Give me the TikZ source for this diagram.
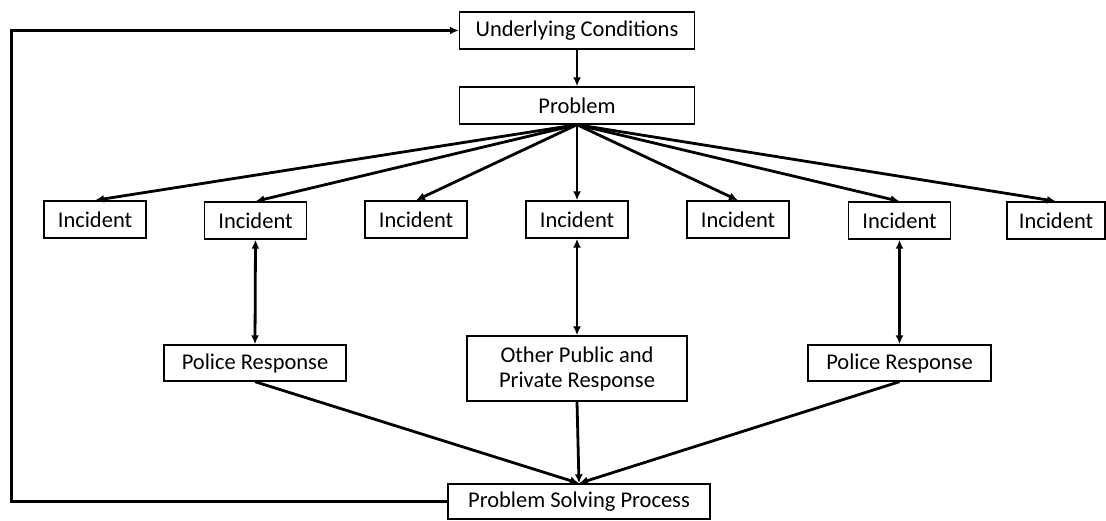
\documentclass[tikz,border=0pt]{standalone}
\usepackage{fontspec}
\setmainfont{Carlito}
\usetikzlibrary{arrows.meta,positioning}

\begin{document}
\begin{tikzpicture}[x=1pt,y=-1pt,
  box/.style={draw, line width=1.4pt, inner sep=0pt, minimum height=37pt, align=center, font=\fontsize{22.5}{25}\selectfont},
  link/.style={line width=2.8pt, -{Latex[length=9pt,width=8pt]}},
  twoway/.style={line width=2.8pt, {Latex[length=9pt,width=8pt]}-{Latex[length=9pt,width=8pt]}}]
\useasboundingbox (0,0) rectangle (1106,520);

\node[box, minimum width=235pt] (uc) at (577, 30.5) {Underlying Conditions};
\node[box, minimum width=235pt] (pr) at (577, 105.5) {Problem};

\foreach \i/\x/\y in {1/95/219.5, 2/255.5/220.5, 3/416/219.5, 4/577/219.5, 5/738/219.5, 6/899.5/220.5}
  \node[box, minimum width=102pt] (in\i) at (\x, \y) {Incident};
\node[box, minimum width=98pt] (in7) at (1056, 220.5) {Incident};

\node[box, minimum width=182pt, minimum height=36pt] (pl) at (255, 363) {Police Response};
\node[box, minimum width=220pt, minimum height=65pt] (op) at (577, 368.5) {Other Public and\\Private Response};
\node[box, minimum width=183pt, minimum height=36pt] (pr2) at (899.5, 363) {Police Response};
\node[box, minimum width=262pt, minimum height=35pt] (ps) at (579, 501.5) {Problem Solving Process};

\coordinate (corner) at (11, 501.5);

\draw[link] (uc) -- (pr);
\foreach \to in {in1,in2,in3,in4,in5,in6,in7}
  \draw[link] (pr.south) -- (\to.north);
\foreach \from/\to in {in2/pl,in4/op,in6/pr2}
  \draw[twoway] (\from.south) -- (\to.north);
\foreach \from in {pl,op,pr2}
  \draw[link] (\from.south) -- (ps.north);
\draw[link, line width=3pt] (ps.west) -- (corner) |- (uc.west);
\end{tikzpicture}
\end{document}
